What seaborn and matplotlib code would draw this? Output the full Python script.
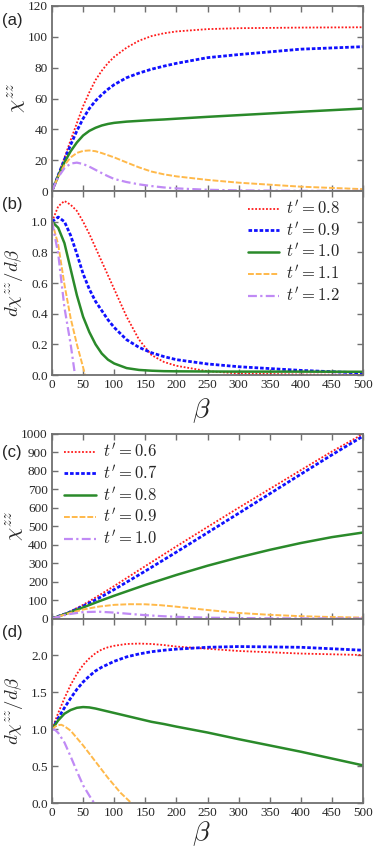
import matplotlib
matplotlib.use('Agg')
import numpy as np
import pandas as pd
import matplotlib.pyplot as plt
import seaborn as sns

sns.set_theme(style='ticks')
plt.rcParams['font.family'] = ['Liberation Serif', 'DejaVu Serif']
plt.rcParams['mathtext.fontset'] = 'cm'

# ---- panel (a): chi^zz, t' = 0.8 ... 1.2
beta_a = [0, 10, 20, 30, 40, 50, 60, 70, 80, 90, 100, 120, 140, 160, 180, 200, 250, 300, 400, 500]
chi_a_08 = [0, 10.5, 21.5, 33, 44, 55, 64, 72, 78, 83, 87, 93, 97.5, 100.5, 102.3, 103.5, 105, 105.6, 106, 106.2]
chi_a_09 = [0, 10.2, 20.4, 30, 39, 47, 53.5, 58.5, 62.5, 66, 69, 73.5, 76.5, 79, 81, 82.8, 86.5, 88.5, 92, 93.6]
chi_a_10 = [0, 9.8, 18.6, 25.8, 31.5, 36, 39, 41, 42.5, 43.5, 44.2, 45, 45.5, 46, 46.4, 46.9, 48.1, 49.2, 51.4, 53.5]
chi_a_11 = [0, 9.3, 16.8, 21.8, 24.7, 26, 26.3, 25.8, 24.6, 23.2, 21.8, 18.5, 15.3, 12.6, 10.8, 9.5, 7.2, 5.4, 2.8, 1.2]
chi_a_12 = [0, 9, 14.8, 17.8, 18.4, 17.5, 15.8, 13.7, 11.6, 9.6, 7.8, 5.8, 4.3, 3.2, 2.3, 1.7, 0.8, 0.4, 0.1, 0.05]

# ---- panel (b): d chi / d beta
beta_b = [0, 10, 20, 30, 40, 50, 60, 70, 80, 90, 100, 120, 140, 160, 180, 200, 250, 300, 400, 500]
dchi_b_08 = [1.0, 1.1, 1.135, 1.11, 1.07, 1.0, 0.92, 0.83, 0.74, 0.65, 0.56, 0.38, 0.23, 0.13, 0.085, 0.06, 0.025, 0.01, 0.003, 0.001]
dchi_b_09 = [1.0, 1.03, 1.0, 0.91, 0.79, 0.66, 0.56, 0.48, 0.42, 0.36, 0.31, 0.23, 0.18, 0.145, 0.12, 0.1, 0.072, 0.054, 0.03, 0.013]
dchi_b_10 = [1.0, 0.96, 0.86, 0.69, 0.52, 0.38, 0.28, 0.2, 0.14, 0.1, 0.075, 0.045, 0.033, 0.028, 0.025, 0.024, 0.023, 0.022, 0.022, 0.021]
beta_b_11 = [0, 10, 20, 30, 40, 50, 60]
dchi_b_11 = [1.0, 0.85, 0.59, 0.37, 0.2, 0.05, -0.12]
beta_b_12 = [0, 10, 20, 30, 37, 42]
dchi_b_12 = [1.0, 0.79, 0.44, 0.2, 0.0, -0.12]

# ---- panel (c): chi^zz, t' = 0.6 ... 1.0
beta_c = [0, 25, 50, 75, 100, 150, 200, 250, 300, 350, 400, 450, 500]
chi_c_06 = [0, 31, 74, 124, 176, 284, 391, 496, 600, 702, 804, 905, 1000]
chi_c_07 = [0, 29.5, 67, 110, 157, 257, 360, 465, 570, 676, 782, 887, 988]
chi_c_08 = [0, 28.5, 60, 92.5, 123.5, 182, 236, 286, 331, 372, 409, 441, 466]
beta_c_s = [0, 25, 50, 75, 100, 125, 150, 175, 200, 250, 300, 350, 400, 450, 500]
chi_c_09 = [0, 26, 48.5, 64.5, 74, 77.5, 77, 72, 64, 46, 30, 20, 12.5, 8, 5]
chi_c_10 = [0, 22.5, 34.5, 37, 32, 25, 18, 13, 9, 4.5, 2.2, 1, 0.5, 0.2, 0.1]

# ---- panel (d): d chi / d beta
beta_d = [0, 10, 20, 30, 40, 50, 60, 70, 80, 90, 100, 120, 140, 160, 180, 200, 250, 300, 400, 500]
dchi_d_06 = [1.0, 1.22, 1.42, 1.6, 1.75, 1.87, 1.96, 2.03, 2.08, 2.11, 2.13, 2.155, 2.16, 2.155, 2.14, 2.12, 2.09, 2.06, 2.025, 2.005]
dchi_d_07 = [1.0, 1.15, 1.29, 1.42, 1.54, 1.64, 1.72, 1.79, 1.84, 1.88, 1.92, 1.98, 2.02, 2.05, 2.07, 2.085, 2.11, 2.12, 2.11, 2.07]
dchi_d_08 = [1.0, 1.12, 1.21, 1.26, 1.29, 1.3, 1.295, 1.28, 1.26, 1.24, 1.22, 1.18, 1.14, 1.1, 1.07, 1.035, 0.955, 0.865, 0.695, 0.51]
beta_d_09 = [0, 5, 10, 15, 20, 30, 40, 50, 60, 70, 80, 90, 100, 110, 120, 130, 140]
dchi_d_09 = [1.0, 1.035, 1.055, 1.06, 1.04, 0.98, 0.88, 0.78, 0.67, 0.56, 0.45, 0.34, 0.24, 0.14, 0.06, -0.02, -0.1]
beta_d_10 = [0, 5, 10, 20, 30, 40, 50, 60, 70, 80]
dchi_d_10 = [1.0, 0.99, 0.95, 0.82, 0.63, 0.43, 0.24, 0.1, -0.03, -0.15]

# 線型與顏色 (gnuplot 風格)
styles = [
    dict(color='#ff1a1a', ls=(0, (1, 1)), lw=1.3),
    dict(color='#1010ff', ls=(0, (1.3, 0.7)), lw=2.0),
    dict(color='#2a8a2a', ls='-', lw=1.8),
    dict(color='#ffb94a', ls=(0, (3, 1)), lw=1.4),
    dict(color='#c08af5', ls=(0, (4, 1.5, 1, 1.5)), lw=1.6),
]

W, H = 374, 848
fig = plt.figure(figsize=(W / 100, H / 100), dpi=100)

def add_ax(top, bottom):
    return fig.add_axes([52 / W, 1 - bottom / H, 311 / W, (bottom - top) / H])

ax_a = add_ax(6, 191)
ax_b = add_ax(191, 375)
ax_c = add_ax(434, 618.5)
ax_d = add_ax(618.5, 803)

def draw(ax, xs, ys, labels=None):
    for i, (x, y) in enumerate(zip(xs, ys)):
        st = styles[i]
        lab = labels[i] if labels else None
        sns.lineplot(x=x, y=y, ax=ax, color=st['color'], linewidth=st['lw'],
                     label=lab, legend=False, sort=False)
        ax.lines[-1].set_linestyle(st['ls'])

def style_axis(ax):
    ax.tick_params(direction='in', top=True, right=True, length=4, width=1,
                   color='#707070', labelsize=9.5, pad=3)
    for sp in ax.spines.values():
        sp.set_color('#707070')
        sp.set_linewidth(1.3)
    ax.set_xlim(0, 500)
    ax.set_xticks(np.arange(0, 501, 50))
    ax.set_xlabel('')
    ax.set_ylabel('')

labels_ab = ["$t' = 0.8$", "$t' = 0.9$", "$t' = 1.0$", "$t' = 1.1$", "$t' = 1.2$"]
labels_cd = ["$t' = 0.6$", "$t' = 0.7$", "$t' = 0.8$", "$t' = 0.9$", "$t' = 1.0$"]

# (a)
draw(ax_a, [beta_a] * 5, [chi_a_08, chi_a_09, chi_a_10, chi_a_11, chi_a_12])
style_axis(ax_a)
ax_a.set_ylim(0, 120)
ax_a.set_yticks(np.arange(0, 121, 20))
ax_a.tick_params(labelbottom=False)
ax_a.set_ylabel(r'$\chi^{zz}$', fontsize=15)
ax_a.yaxis.set_label_coords(-0.075, 0.5)

# (b)
draw(ax_b, [beta_b, beta_b, beta_b, beta_b_11, beta_b_12],
     [dchi_b_08, dchi_b_09, dchi_b_10, dchi_b_11, dchi_b_12], labels_ab)
style_axis(ax_b)
ax_b.set_ylim(0, 1.2)
ax_b.set_yticks(np.arange(0, 1.01, 0.2))
ax_b.yaxis.set_major_formatter(matplotlib.ticker.FormatStrFormatter('%.1f'))
ax_b.set_ylabel(r'$d\chi^{zz}/d\beta$', fontsize=13.5)
ax_b.yaxis.set_label_coords(-0.085, 0.5)
ax_b.set_xlabel(r'$\beta$', fontsize=20)
ax_b.xaxis.set_label_coords(0.48, -0.115)
ax_b.legend(loc='upper right', bbox_to_anchor=(0.925, 0.95), frameon=False,
            fontsize=12, handlelength=1.9, handletextpad=0.4, labelspacing=0.2,
            borderaxespad=0, borderpad=0)

# (c)
draw(ax_c, [beta_c, beta_c, beta_c, beta_c_s, beta_c_s],
     [chi_c_06, chi_c_07, chi_c_08, chi_c_09, chi_c_10], labels_cd)
style_axis(ax_c)
ax_c.set_ylim(0, 1000)
ax_c.set_yticks(np.arange(0, 1001, 100))
ax_c.tick_params(labelbottom=False)
ax_c.set_ylabel(r'$\chi^{zz}$', fontsize=15)
ax_c.yaxis.set_label_coords(-0.08, 0.5)
ax_c.legend(loc='upper left', bbox_to_anchor=(0.04, 0.95), frameon=False,
            fontsize=12, handlelength=1.9, handletextpad=0.4, labelspacing=0.2,
            borderaxespad=0, borderpad=0)

# (d)
draw(ax_d, [beta_d, beta_d, beta_d, beta_d_09, beta_d_10],
     [dchi_d_06, dchi_d_07, dchi_d_08, dchi_d_09, dchi_d_10])
style_axis(ax_d)
ax_d.set_ylim(0, 2.5)
ax_d.set_yticks(np.arange(0, 2.01, 0.5))
ax_d.yaxis.set_major_formatter(matplotlib.ticker.FormatStrFormatter('%.1f'))
ax_d.set_ylabel(r'$d\chi^{zz}/d\beta$', fontsize=13.5)
ax_d.yaxis.set_label_coords(-0.085, 0.5)
ax_d.set_xlabel(r'$\beta$', fontsize=20)
ax_d.xaxis.set_label_coords(0.48, -0.09)

# 面板標記
for lab, y in [('(a)', 20), ('(b)', 205), ('(c)', 452), ('(d)', 633)]:
    fig.text(2 / W, 1 - y / H, lab, fontsize=12, va='center', ha='left',
             family=['Liberation Sans', 'DejaVu Sans'])

fig.savefig('out.png', dpi=100)
